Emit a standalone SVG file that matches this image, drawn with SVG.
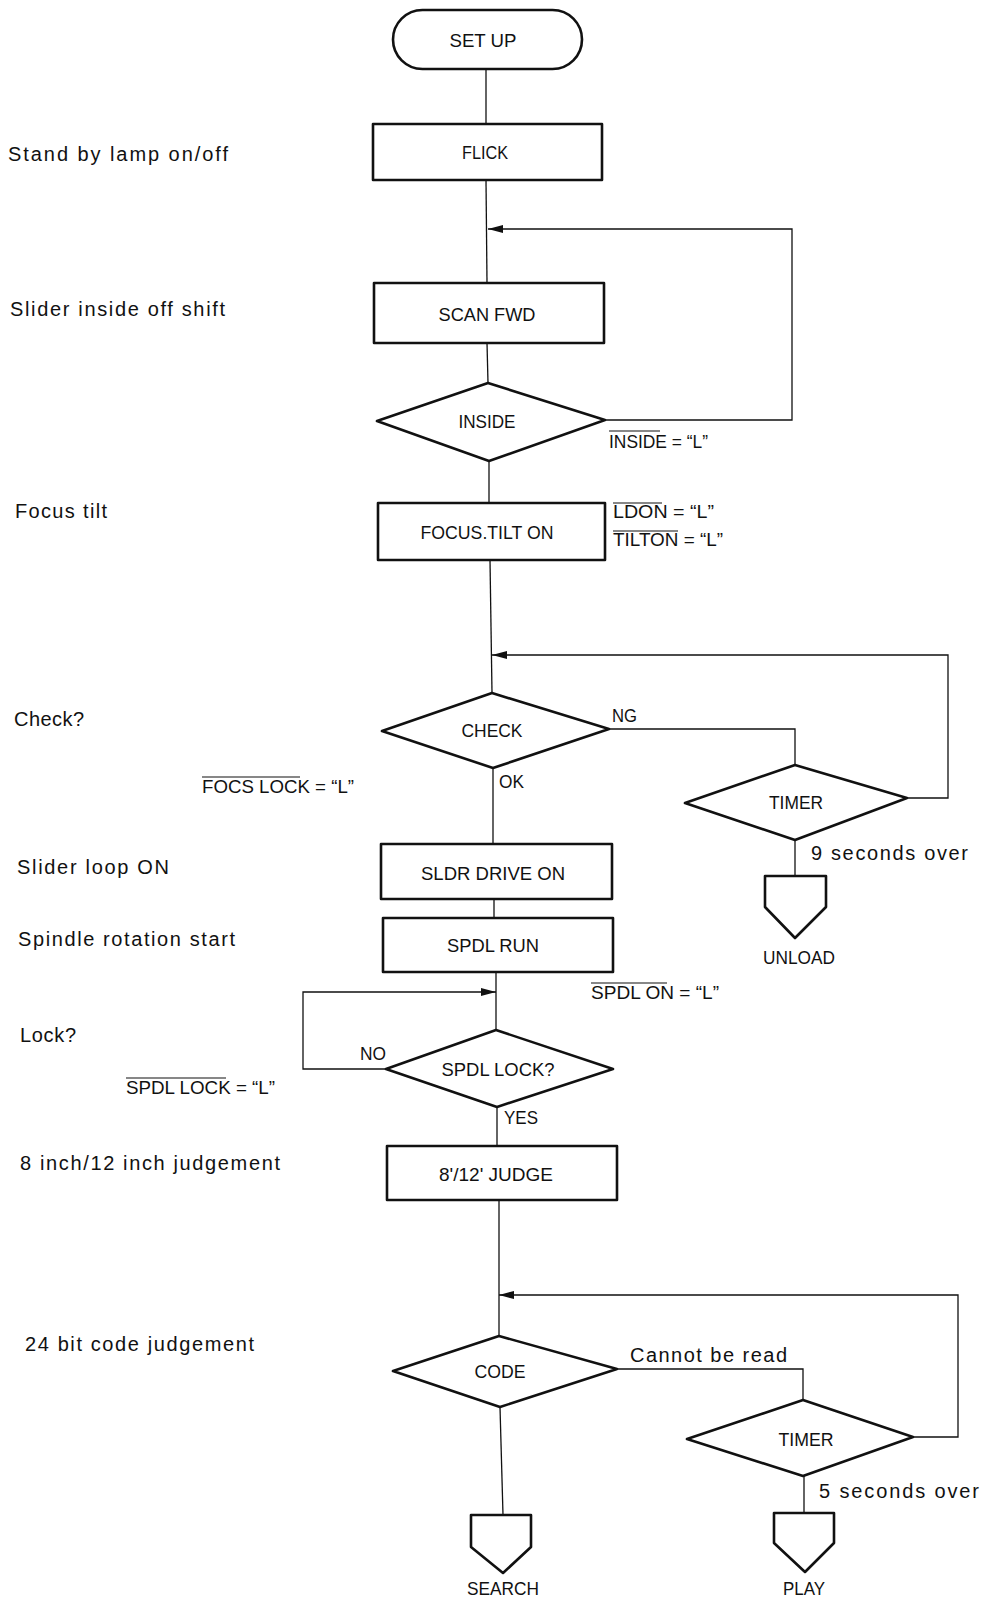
<svg xmlns="http://www.w3.org/2000/svg" width="984" height="1607" viewBox="0 0 984 1607">
  <style>
    .shape { fill: none; stroke: #111; stroke-width: 2.6; stroke-linejoin: round; }
    .wire { fill: none; stroke: #111; stroke-width: 1.3; }
    .bar { stroke: #111; stroke-width: 1.1; }
    .node { font-family: "Liberation Sans", Arial, sans-serif; font-size: 19px; fill: #111; text-anchor: middle; }
    .note { font-family: "Liberation Sans", Arial, sans-serif; font-size: 18px; fill: #111; }
    .step { font-family: "Liberation Sans", Arial, sans-serif; font-size: 20px; fill: #111; }
  </style>
  <defs>
    <marker id="arrow" markerUnits="userSpaceOnUse" markerWidth="16" markerHeight="10" refX="15" refY="5" orient="auto">
      <path d="M0,1 L15,5 L0,9 Z" fill="#111"/>
    </marker>
  </defs>
  <rect width="984" height="1607" fill="#fff"/>

  <!-- step descriptions down the left margin -->
  <g id="steps">
    <text class="step" x="8" y="161" textLength="220" lengthAdjust="spacing">Stand by lamp on/off</text>
    <text class="step" x="10" y="316" textLength="215" lengthAdjust="spacing">Slider inside off shift</text>
    <text class="step" x="15" y="518" textLength="92" lengthAdjust="spacing">Focus tilt</text>
    <text class="step" x="14" y="726" textLength="70" lengthAdjust="spacing">Check?</text>
    <text class="step" x="17" y="874" textLength="152" lengthAdjust="spacing">Slider loop ON</text>
    <text class="step" x="18" y="946" textLength="217" lengthAdjust="spacing">Spindle rotation start</text>
    <text class="step" x="20" y="1042" textLength="56" lengthAdjust="spacing">Lock?</text>
    <text class="step" x="20" y="1170" textLength="260" lengthAdjust="spacing">8 inch/12 inch judgement</text>
    <text class="step" x="25" y="1351" textLength="229" lengthAdjust="spacing">24 bit code judgement</text>
  </g>

  <!-- connectors -->
  <g id="connectors">
    <path class="wire" d="M486,69 V124"/>
    <path class="wire" d="M486,180 L487,283"/>
    <path class="wire" d="M487,343 L488,383"/>
    <path class="wire" d="M605,420 H792 V229 H488" marker-end="url(#arrow)"/>
    <path class="wire" d="M489,461 V503"/>
    <path class="wire" d="M490,560 L492,693"/>
    <path class="wire" d="M907,798 H948 V655 H492" marker-end="url(#arrow)"/>
    <path class="wire" d="M609,729 H795 V765"/>
    <path class="wire" d="M493,768 V844"/>
    <path class="wire" d="M494,899 V918"/>
    <path class="wire" d="M496,972 V1030"/>
    <path class="wire" d="M386,1069 H303 V992 H496" marker-end="url(#arrow)"/>
    <path class="wire" d="M497,1107 V1146"/>
    <path class="wire" d="M499,1200 V1336"/>
    <path class="wire" d="M913,1437 H958 V1295 H499" marker-end="url(#arrow)"/>
    <path class="wire" d="M617,1369 H803 V1400"/>
    <path class="wire" d="M500,1407 L503,1515"/>
    <path class="wire" d="M795,840 V876"/>
    <path class="wire" d="M804,1476 V1513"/>
  </g>

  <!-- connector labels and signal annotations -->
  <g id="labels">
    <text class="note" x="612" y="722" textLength="25" lengthAdjust="spacingAndGlyphs">NG</text>
    <text class="note" x="499" y="788" textLength="25" lengthAdjust="spacingAndGlyphs">OK</text>
    <text class="note" x="360" y="1060" textLength="26" lengthAdjust="spacingAndGlyphs">NO</text>
    <text class="note" x="504" y="1124" textLength="34" lengthAdjust="spacingAndGlyphs">YES</text>
    <text class="step" x="811" y="860" textLength="157" lengthAdjust="spacing">9 seconds over</text>
    <text class="step" x="630" y="1362" textLength="157" lengthAdjust="spacing">Cannot be read</text>
    <text class="step" x="819" y="1498" textLength="160" lengthAdjust="spacing">5 seconds over</text>

    <text class="note" x="609" y="448" textLength="99" lengthAdjust="spacingAndGlyphs">INSIDE = “L”</text>
    <line class="bar" x1="609" y1="431" x2="660" y2="431"/>
    <text class="note" x="613" y="518" textLength="101" lengthAdjust="spacingAndGlyphs">LDON = “L”</text>
    <line class="bar" x1="613" y1="503" x2="662" y2="503"/>
    <text class="note" x="613" y="546" textLength="110" lengthAdjust="spacingAndGlyphs">TILTON = “L”</text>
    <line class="bar" x1="613" y1="531" x2="678" y2="531"/>
    <text class="note" x="202" y="793" textLength="152" lengthAdjust="spacingAndGlyphs">FOCS  LOCK = “L”</text>
    <line class="bar" x1="202" y1="777" x2="300" y2="777"/>
    <text class="note" x="591" y="999" textLength="128" lengthAdjust="spacingAndGlyphs">SPDL  ON = “L”</text>
    <line class="bar" x1="591" y1="983" x2="667" y2="983"/>
    <text class="note" x="126" y="1094" textLength="149" lengthAdjust="spacingAndGlyphs">SPDL  LOCK = “L”</text>
    <line class="bar" x1="126" y1="1078" x2="226" y2="1078"/>
  </g>

  <!-- process nodes -->
  <g id="setup">
    <rect class="shape" x="393" y="10" width="189" height="59" rx="29.5"/>
    <text class="node" x="483" y="47" textLength="67" lengthAdjust="spacingAndGlyphs">SET UP</text>
  </g>
  <g id="flick">
    <rect class="shape" x="373" y="124" width="229" height="56"/>
    <text class="node" x="485" y="159" textLength="46" lengthAdjust="spacingAndGlyphs">FLICK</text>
  </g>
  <g id="scan-fwd">
    <rect class="shape" x="374" y="283" width="230" height="60"/>
    <text class="node" x="487" y="321" textLength="97" lengthAdjust="spacingAndGlyphs">SCAN FWD</text>
  </g>
  <g id="inside">
    <polygon class="shape" points="377,421 488,383 605,420 489,461"/>
    <text class="node" x="487" y="428" textLength="57" lengthAdjust="spacingAndGlyphs">INSIDE</text>
  </g>
  <g id="focus-tilt">
    <rect class="shape" x="378" y="503" width="227" height="57"/>
    <text class="node" x="487" y="539" textLength="133" lengthAdjust="spacingAndGlyphs">FOCUS.TILT ON</text>
  </g>
  <g id="check">
    <polygon class="shape" points="382,731 492,693 609,729 493,768"/>
    <text class="node" x="492" y="737" textLength="61" lengthAdjust="spacingAndGlyphs">CHECK</text>
  </g>
  <g id="timer-9s">
    <polygon class="shape" points="685,803 795,765 907,798 795,840"/>
    <text class="node" x="796" y="809" textLength="54" lengthAdjust="spacingAndGlyphs">TIMER</text>
  </g>
  <g id="unload">
    <polygon class="shape" points="765,876 826,876 826,907 795,938 765,907"/>
    <text class="node" x="799" y="964" textLength="72" lengthAdjust="spacingAndGlyphs">UNLOAD</text>
  </g>
  <g id="sldr-drive">
    <rect class="shape" x="381" y="844" width="231" height="55"/>
    <text class="node" x="493" y="880" textLength="144" lengthAdjust="spacingAndGlyphs">SLDR DRIVE ON</text>
  </g>
  <g id="spdl-run">
    <rect class="shape" x="383" y="918" width="230" height="54"/>
    <text class="node" x="493" y="952" textLength="92" lengthAdjust="spacingAndGlyphs">SPDL RUN</text>
  </g>
  <g id="spdl-lock">
    <polygon class="shape" points="386,1069 496,1030 613,1069 497,1107"/>
    <text class="node" x="498" y="1076" textLength="113" lengthAdjust="spacingAndGlyphs">SPDL LOCK?</text>
  </g>
  <g id="judge">
    <rect class="shape" x="387" y="1146" width="230" height="54"/>
    <text class="node" x="496" y="1181" textLength="114" lengthAdjust="spacingAndGlyphs">8'/12' JUDGE</text>
  </g>
  <g id="code">
    <polygon class="shape" points="393,1371 499,1336 617,1369 500,1407"/>
    <text class="node" x="500" y="1378" textLength="51" lengthAdjust="spacingAndGlyphs">CODE</text>
  </g>
  <g id="timer-5s">
    <polygon class="shape" points="687,1439 803,1400 913,1437 803,1476"/>
    <text class="node" x="806" y="1446" textLength="55" lengthAdjust="spacingAndGlyphs">TIMER</text>
  </g>
  <g id="search">
    <polygon class="shape" points="471,1515 531,1515 531,1547 503,1573 471,1547"/>
    <text class="node" x="503" y="1595" textLength="72" lengthAdjust="spacingAndGlyphs">SEARCH</text>
  </g>
  <g id="play">
    <polygon class="shape" points="774,1513 834,1513 834,1543 805,1572 774,1543"/>
    <text class="node" x="804" y="1595" textLength="42" lengthAdjust="spacingAndGlyphs">PLAY</text>
  </g>
</svg>
